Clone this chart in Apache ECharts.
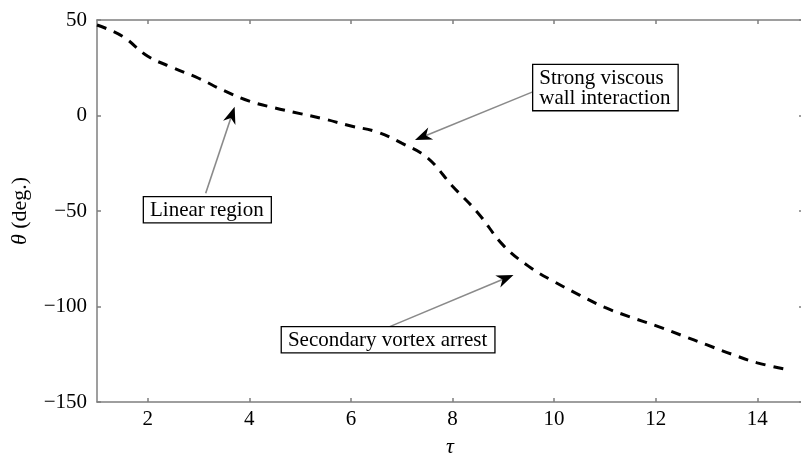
<!DOCTYPE html>
<html>
<head>
<meta charset="utf-8">
<script src="https://cdn.jsdelivr.net/npm/echarts@6/dist/echarts.min.js"></script>
<style>html,body{margin:0;padding:0;background:#fff}#c{width:801px;height:454px}</style>
</head>
<body>
<div id="c"></div>
<script>
const tau = [1.0, 1.5, 2.0, 2.5, 3.0, 3.5, 4.0, 4.5, 5.0, 5.5, 6.0, 6.5, 7.0, 7.5, 8.0, 8.5, 9.0, 9.5, 10.0, 10.5, 11.0, 11.5, 12.0, 12.5, 13.0, 13.5, 14.0, 14.6];
const theta = [47.4, 41.5, 31, 25, 19.5, 13, 7.5, 4, 1, -2, -5.5, -8.5, -14.5, -22, -37, -51, -68, -79, -87, -94, -100.5, -105.5, -110, -115, -120, -125, -129.5, -133];
const xTicks = [2, 4, 6, 8, 10, 12, 14];
const yTicks = [-150, -100, -50, 0, 50];
const annoText = ['Linear region', 'Strong viscous\nwall interaction', 'Secondary vortex arrest'];
const annoTail = [[3.14, -40.7], [9.59, 12.5], [6.74, -110.8]];
const annoTip = [[3.71, 4.6], [7.26, -12.8], [9.2, -83.5]];
const annoBox = [[1.925, -42.8], [9.59, 26.4], [4.64, -110.9]];

const FONT = "'Liberation Serif','Times New Roman',serif";
const axisGray = '#7f7f7f';

const chart = echarts.init(document.getElementById('c'), null, {renderer: 'canvas'});
const lineData = tau.map((t, i) => [t, theta[i]]);
const annoData = annoText.map((s, i) => [annoTail[i][0], annoTail[i][1], annoTip[i][0], annoTip[i][1], annoBox[i][0], annoBox[i][1]]);

const axLine = {show: true, onZero: false, lineStyle: {color: axisGray, width: 1.5}};
const axTick = {show: true, inside: true, length: 4, lineStyle: {color: axisGray, width: 1.5}};

chart.setOption({
  animation: false,
  backgroundColor: '#fff',
  grid: {left: 97, top: 20, right: -2, bottom: 52, containLabel: false, outerBoundsMode: 'none'},
  xAxis: [
    {type: 'value', min: 1, max: 14.9, position: 'bottom',
     axisLine: axLine,
     axisTick: Object.assign({customValues: xTicks}, axTick),
     axisLabel: {customValues: xTicks, color: '#000', fontFamily: FONT, fontSize: 21, margin: 7},
     splitLine: {show: false},
     name: 'τ', nameLocation: 'middle', nameGap: 34,
     nameTextStyle: {color: '#000', fontFamily: FONT, fontSize: 22, fontStyle: 'italic'}},
    {type: 'value', min: 1, max: 14.9, position: 'top',
     axisLine: axLine,
     axisTick: Object.assign({customValues: xTicks}, axTick),
     axisLabel: {show: false}, splitLine: {show: false}}
  ],
  yAxis: [
    {type: 'value', min: -150, max: 50, interval: 50, position: 'left',
     axisLine: axLine, axisTick: axTick,
     axisLabel: {color: '#000', fontFamily: FONT, fontSize: 21, margin: 10,
                 formatter: v => (v < 0 ? '\u2212' + Math.abs(v) : String(v))},
     splitLine: {show: false},
     name: '{i|θ} (deg.)', nameLocation: 'middle', nameGap: 66, nameRotate: 90,
     nameTextStyle: {color: '#000', fontFamily: FONT, fontSize: 22,
                     rich: {i: {fontStyle: 'italic', fontFamily: FONT, fontSize: 22, color: '#000'}}}},
    {type: 'value', min: -150, max: 50, interval: 50, position: 'right',
     axisLine: axLine, axisTick: axTick,
     axisLabel: {show: false}, splitLine: {show: false}}
  ],
  series: [
    {type: 'line', data: lineData, smooth: 0.4, showSymbol: false, symbol: 'none',
     xAxisIndex: 0, yAxisIndex: 0,
     lineStyle: {color: '#000', width: 3, type: [10, 8]}, z: 3},
    {type: 'custom', xAxisIndex: 0, yAxisIndex: 0, data: annoData, z: 5, clip: false,
     encode: {x: [0, 2, 4], y: [1, 3, 5]},
     renderItem: function (params, api) {
       const t = api.coord([api.value(0), api.value(1)]);
       const h = api.coord([api.value(2), api.value(3)]);
       const b = api.coord([api.value(4), api.value(5)]);
       const dx = h[0] - t[0], dy = h[1] - t[1];
       const len = Math.sqrt(dx * dx + dy * dy);
       const ux = dx / len, uy = dy / len, px = -uy, py = ux;
       const L = 17, W = 6.5, N = 12;
       const back = [h[0] - ux * L, h[1] - uy * L];
       const notch = [h[0] - ux * N, h[1] - uy * N];
       return {
         type: 'group',
         children: [
           {type: 'line', shape: {x1: t[0], y1: t[1], x2: notch[0], y2: notch[1]},
            style: {stroke: '#8a8a8a', lineWidth: 1.6}},
           {type: 'polygon', shape: {points: [h, [back[0] + px * W, back[1] + py * W], notch, [back[0] - px * W, back[1] - py * W]]},
            style: {fill: '#000'}},
           {type: 'text', x: b[0], y: b[1],
            style: {text: annoText[params.dataIndex], font: '21px ' + FONT, fill: '#000',
                    align: 'left', verticalAlign: 'top', lineHeight: 20,
                    backgroundColor: '#fff', borderColor: '#000', borderWidth: 1.3,
                    padding: [3, 7, 2, 6]}}
         ]
       };
     }}
  ]
});
</script>
</body>
</html>
